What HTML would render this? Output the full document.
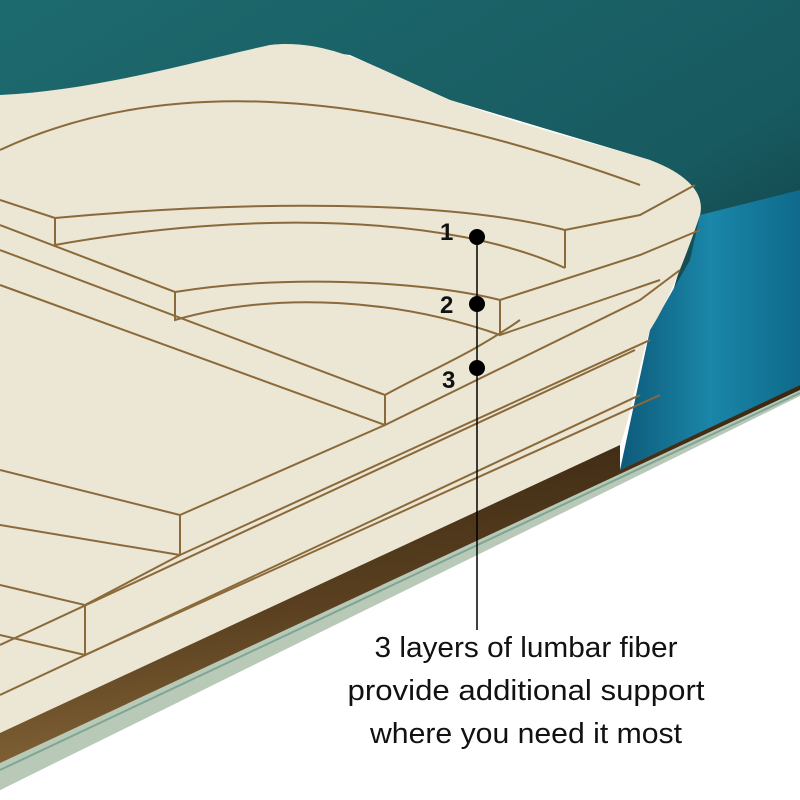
<!DOCTYPE html>
<html><head><style>
html,body{margin:0;padding:0;background:#fff;}
svg{display:block;}
.cap{font-family:"Liberation Sans Narrow","Liberation Sans",sans-serif;font-size:29px;fill:#111;}
.num{font-family:"Liberation Sans",sans-serif;font-weight:bold;font-size:24px;fill:#111;}
</style></head><body>
<svg width="800" height="800" viewBox="0 0 800 800" xmlns="http://www.w3.org/2000/svg">
<defs>
<linearGradient id="teal" x1="0" y1="0" x2="1" y2="1">
<stop offset="0" stop-color="#1d6a6e"/><stop offset="0.6" stop-color="#175a60"/><stop offset="1" stop-color="#0d2c30"/>
</linearGradient>
<linearGradient id="blue" x1="0" y1="0" x2="1" y2="0">
<stop offset="0" stop-color="#0e5a7a"/><stop offset="0.5" stop-color="#1a86a8"/><stop offset="1" stop-color="#0f6a8c"/>
</linearGradient>
<linearGradient id="dark" x1="0" y1="0" x2="0.2" y2="1">
<stop offset="0" stop-color="#2a1c0c"/><stop offset="0.6" stop-color="#5a4020"/><stop offset="1" stop-color="#8a6a3a"/>
</linearGradient>
</defs>
<rect width="800" height="800" fill="#fff"/>
<path d="M0 0 H800 V385 L620 470 L700 200 L650 160 L450 100 L350 55 L270 45 L150 80 L0 110 Z" fill="url(#teal)"/>
<path d="M700 215 L800 190 V385 L620 470 L650 330 L690 260 Z" fill="url(#blue)"/>
<path d="M0 95 C100 90 200 60 270 45 C330 38 380 70 450 100 C520 125 600 145 650 160 C690 175 705 195 700 215 C690 245 670 300 650 330 C640 360 630 420 620 445 L0 735 Z" fill="#ece6d4"/>
<path d="M0 733 L620 445 L620 470 L800 385 L800 392 L0 790 Z" fill="url(#dark)"/>
<path d="M0 763 L620 474 L800 390 L800 396 L0 790 Z" fill="#b9c9b8"/>
<path d="M0 770 L800 393" stroke="#7fa595" stroke-width="2"/>
<g fill="none" stroke="#8a6a3a" stroke-width="2">
<path d="M0 150 C150 80 350 80 640 185"/>
<path d="M0 200 L55 218 L55 245 C250 210 450 215 565 268"/>
<path d="M55 218 C250 200 450 200 565 230 L640 215 L695 185"/>
<path d="M565 230 L565 268"/>
<path d="M0 225 L175 292 L175 320 C280 290 400 300 500 335"/>
<path d="M175 292 C280 275 420 280 500 300 L640 255 L700 230"/>
<path d="M500 300 L500 335 L660 280"/>
<path d="M0 250 L385 395 L385 425 L640 300 L680 270"/>
<path d="M0 285 L385 425"/>
<path d="M385 395 C430 370 470 355 520 320"/>
<path d="M0 470 L180 515 L180 555 L650 340"/>
<path d="M0 525 L180 555"/>
<path d="M180 515 L385 425"/>
<path d="M0 585 L85 605 L85 655 L660 395"/>
<path d="M0 635 L85 655"/>
<path d="M0 645 L635 350"/>
<path d="M0 695 L640 395"/>
<path d="M85 605 L180 555"/>
</g>
<line x1="477" y1="237" x2="477" y2="630" stroke="#000" stroke-width="1.5"/>
<circle cx="477" cy="237" r="8" fill="#000"/>
<circle cx="477" cy="304" r="8" fill="#000"/>
<circle cx="477" cy="368" r="8" fill="#000"/>
<text class="num" x="440" y="240">1</text>
<text class="num" x="440" y="313">2</text>
<text class="num" x="442" y="388">3</text>
<text class="cap" x="526" y="657" text-anchor="middle" textLength="303" lengthAdjust="spacingAndGlyphs">3 layers of lumbar fiber</text>
<text class="cap" x="526" y="700" text-anchor="middle" textLength="357" lengthAdjust="spacingAndGlyphs">provide additional support</text>
<text class="cap" x="526" y="743" text-anchor="middle" textLength="312" lengthAdjust="spacingAndGlyphs">where you need it most</text>
</svg>
</body></html>
